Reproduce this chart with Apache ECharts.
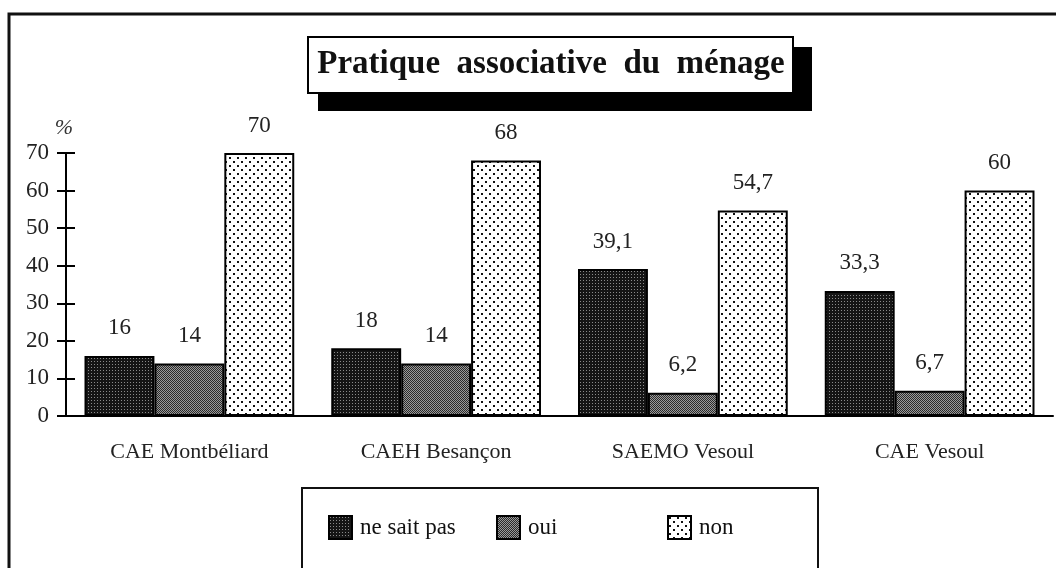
<!DOCTYPE html>
<html>
<head>
<meta charset="utf-8">
<script src="https://cdn.jsdelivr.net/npm/echarts@6/dist/echarts.min.js"></script>
<style>
	html, body { margin: 0; padding: 0; background: #fff; }
	#chart { width: 1056px; height: 568px; }
</style>
</head>
<body>
<div id="chart"></div>
<script>
// données
var categories = ['CAE Montbéliard', 'CAEH Besançon', 'SAEMO Vesoul', 'CAE Vesoul'];
var neSaitPas = [16, 18, 39.1, 33.3];
var oui = [14, 14, 6.2, 6.7];
var non = [70, 68, 54.7, 60];
var yTicks = [0, 10, 20, 30, 40, 50, 60, 70];

var serif = '"Times New Roman", "Liberation Serif", "DejaVu Serif", serif';

// motifs de remplissage (trames)
function trame(size, draw) {
	var c = document.createElement('canvas');
	c.width = size;
	c.height = size;
	draw(c.getContext('2d'));
	return { image: c, repeat: 'repeat' };
}
var trameNoire = trame(3, function(ctx) {
	ctx.fillStyle = '#151515';
	ctx.fillRect(0, 0, 3, 3);
	ctx.fillStyle = '#8a8a8a';
	ctx.fillRect(1, 1, 1, 1);
});
var trameGrise = trame(2, function(ctx) {
	ctx.fillStyle = '#9a9a9a';
	ctx.fillRect(0, 0, 2, 2);
	ctx.fillStyle = '#2a2a2a';
	ctx.fillRect(0, 0, 1, 1);
	ctx.fillRect(1, 1, 1, 1);
});
var trameBlanche = trame(8, function(ctx) {
	ctx.fillStyle = '#fff';
	ctx.fillRect(0, 0, 8, 8);
	ctx.fillStyle = '#111';
	ctx.fillRect(1, 1, 2, 2);
	ctx.fillRect(5, 5, 2, 2);
});

function virgule(p) {
	return String(p.value).replace('.', ',');
}

function serie(name, data, color) {
	return {
		name: name,
		type: 'bar',
		data: data,
		barGap: '0%',
		barCategoryGap: '15%',
		itemStyle: {
			color: color,
			borderColor: '#000',
			borderWidth: 2
		},
		label: {
			show: true,
			position: 'top',
			distance: 16,
			formatter: virgule,
			fontFamily: serif,
			fontSize: 23,
			color: '#222'
		},
		animation: false
	};
}

function legende(name, left) {
	return {
		data: [name],
		left: left,
		top: 510,
		icon: 'rect',
		itemWidth: 23,
		itemHeight: 23,
		itemGap: 0,
		textStyle: { fontFamily: serif, fontSize: 23, color: '#111', padding: [0, 0, 0, 3] },
		selectedMode: false
	};
}

var chart = echarts.init(document.getElementById('chart'));
chart.setOption({
	backgroundColor: '#fff',
	animation: false,
	grid: { left: 66, right: 3, top: 153, bottom: 152 },
	xAxis: [{
		type: 'category',
		data: categories,
		axisLine: { lineStyle: { color: '#000', width: 2 } },
		axisTick: { length: 8, lineStyle: { color: '#000', width: 2 } },
		axisLabel: { margin: 25, fontFamily: serif, fontSize: 22, color: '#222' }
	}, {
		type: 'category',
		data: categories,
		position: 'bottom',
		axisLine: { show: false },
		axisTick: { inside: true, length: 8, lineStyle: { color: '#000', width: 2 } },
		axisLabel: { show: false }
	}],
	yAxis: [{
		type: 'value',
		min: yTicks[0],
		max: yTicks[yTicks.length - 1],
		interval: 10,
		axisLine: { show: true, lineStyle: { color: '#000', width: 2 } },
		axisTick: { show: true, length: 9, lineStyle: { color: '#000', width: 2 } },
		axisLabel: { margin: 17, fontFamily: serif, fontSize: 23, color: '#222' },
		splitLine: { show: false }
	}, {
		type: 'value',
		position: 'left',
		min: yTicks[0],
		max: yTicks[yTicks.length - 1],
		interval: 10,
		axisLine: { show: false },
		axisTick: { show: true, inside: true, length: 9, lineStyle: { color: '#000', width: 2 } },
		axisLabel: { show: false },
		splitLine: { show: false }
	}],
	legend: [
		legende('ne sait pas', 323),
		legende('oui', 491),
		legende('non', 662)
	],
	series: [
		serie('ne sait pas', neSaitPas, trameNoire),
		serie('oui', oui, trameGrise),
		serie('non', non, trameBlanche)
	],
	graphic: [
		// cadre général
		{ type: 'rect', shape: { x: 9, y: 14, width: 1080, height: 600 }, style: { fill: 'none', stroke: '#111', lineWidth: 3 }, z: 0 },
		// titre avec ombre
		{ type: 'rect', shape: { x: 318, y: 47, width: 494, height: 64 }, style: { fill: '#000' }, z: 1 },
		{ type: 'rect', shape: { x: 308, y: 37, width: 485, height: 56 }, style: { fill: '#fff', stroke: '#000', lineWidth: 2 }, z: 2 },
		{ type: 'text', x: 551, y: 64, z: 3, style: {
			text: 'Pratique  associative  du  ménage', fontFamily: serif, fontWeight: 'bold', fontSize: 33,
			fill: '#111', align: 'center', verticalAlign: 'middle'
		} },
		// unité
		{ type: 'text', x: 64, y: 128, style: {
			text: '%', fontFamily: serif, fontStyle: 'italic', fontSize: 22, fill: '#333', align: 'center', verticalAlign: 'middle'
		} },
		// cadre de la légende
		{ type: 'rect', shape: { x: 302, y: 488, width: 516, height: 120 }, style: { fill: 'none', stroke: '#111', lineWidth: 2 }, z: 0 }
	]
});
</script>
</body>
</html>
